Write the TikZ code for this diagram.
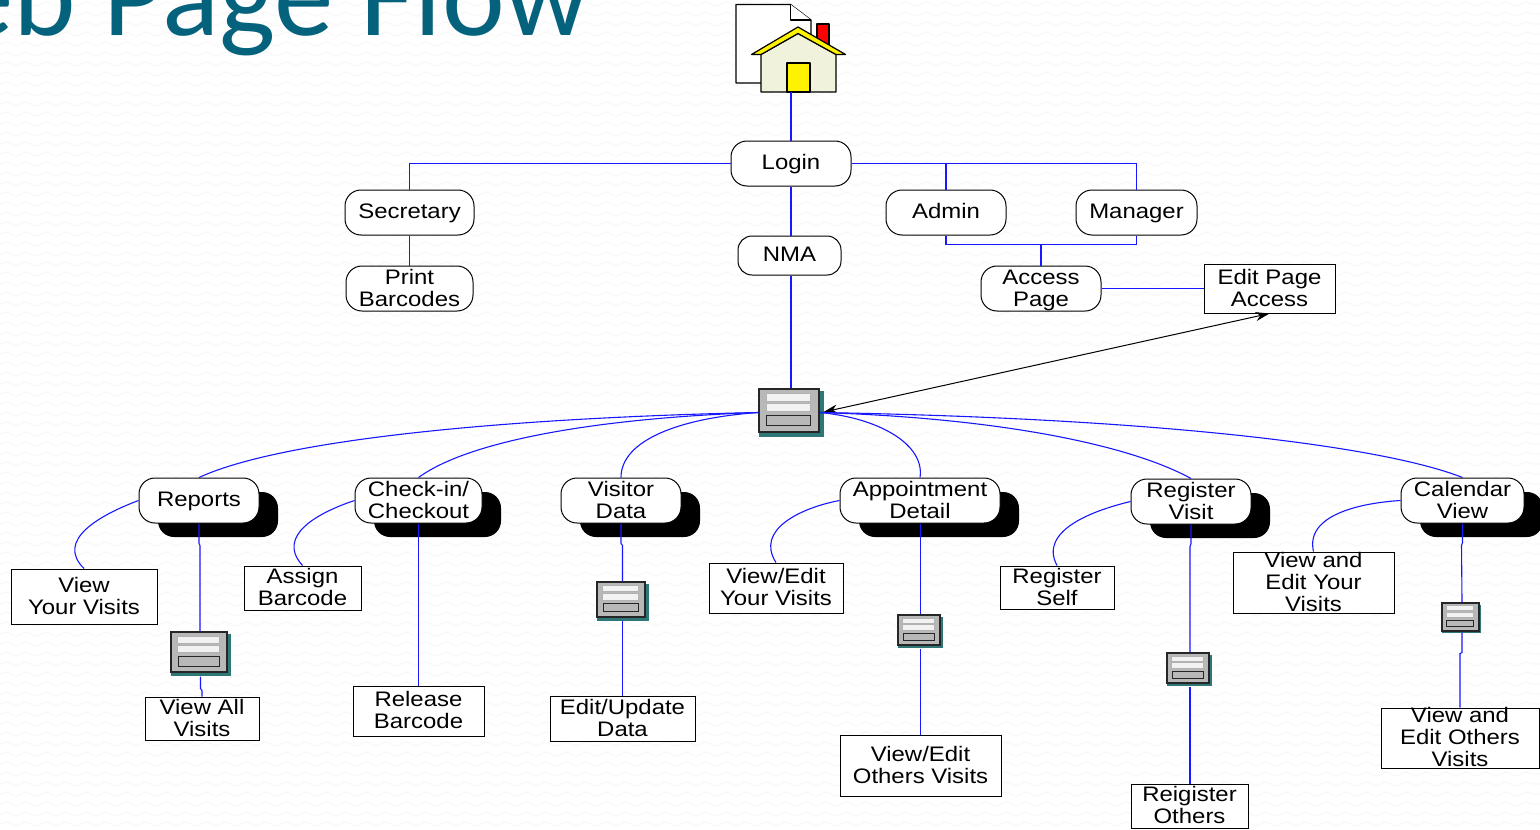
\documentclass[tikz,border=0pt]{standalone}
\usepackage{fontspec}
\setmainfont[FakeStretch=1.14]{Liberation Sans}
\newfontfamily\titlefont{Carlito}
\usetikzlibrary{arrows.meta,calc,shadows,decorations.pathmorphing}
\definecolor{linkblue}{HTML}{1818FF}
\definecolor{titleteal}{HTML}{05627D}
\definecolor{formteal}{HTML}{2F7676}
\definecolor{formgray}{HTML}{B8B8B8}
\definecolor{fieldwhite}{HTML}{F2F2F2}
\definecolor{wallwave}{HTML}{F8F8F8}
\definecolor{housecream}{HTML}{F0F2DC}
\newcommand{\fs}{\rule{0pt}{9.6pt}}
\tikzset{
  sz/.style 2 args={minimum width=#1*0.5pt,minimum height=#2*0.5pt},
  label text/.style={font=\fontsize{10.5}{11}\selectfont,align=center,inner xsep=0pt,inner ysep=-5pt,text=black,
    execute at end node={\rule[-2.75pt]{0pt}{2.75pt}}},
  one/.style={execute at begin node={\rule[-2.35pt]{0pt}{11pt}},execute at end node={}},
  roundbox/.style={label text,draw=black,fill=white,line width=0.5pt,rounded corners=8pt},
  deepbox/.style={roundbox,drop shadow={shadow xshift=9.5pt,shadow yshift=-7pt,opacity=1,fill=black}},
  pagebox/.style={label text,draw=black,fill=white,line width=0.5pt},
  formbox/.style={draw=black!85,fill=formgray,line width=0.55pt,inner sep=0pt},
  link/.style={draw=linkblue,line width=0.55pt},
  icon line/.style={draw=black,line width=0.6pt,line join=round}
}
\newcommand{\formicon}[6]{%name cx cy w h; shadow size
  \fill[formteal] (#2-#4/2,#3-#5/2+2) rectangle (#2+#4/2+#6,#3+#5/2+#6);
  \node[formbox,sz={#4}{#5}] (#1) at (#2,#3) {};
  \begin{scope}[shift={(#1.north west)},xscale=#4,yscale=#5]
    \draw[fill=fieldwhite,draw=gray!60,line width=0.5pt] (0.13,0.12) rectangle (0.87,0.30);
    \draw[fill=fieldwhite,draw=gray!60,line width=0.5pt] (0.13,0.35) rectangle (0.87,0.53);
    \draw[fill=formgray,draw=black!85,line width=0.5pt] (0.14,0.63) rectangle (0.87,0.87);
  \end{scope}
}
\begin{document}
\begin{tikzpicture}[x=0.5pt,y=-0.5pt]
\useasboundingbox (0,0) rectangle (1540,829);
\clip (0,0) rectangle (1540,829);
\fill[white] (0,0) rectangle (1540,829);
\foreach \wy in {4,14,...,824}
  \draw[wallwave,line width=0.6pt,decorate,decoration={snake,segment length=10pt,amplitude=1pt}] (0,\wy) -- (1540,\wy);

% title
\node[anchor=base east,inner sep=0pt,text=titleteal,font=\titlefont\fontsize{59.5}{60}\selectfont] (title) at (590,36) {Web Page Flow};

% home icon
\draw[icon line,fill=white] (736,4.5) -- (790.5,4.5) -- (811,20) -- (811,83) -- (736,83) -- cycle;
\draw[icon line,fill=white] (790.5,4.5) -- (790.5,20) -- (811,20);
\draw[icon line,fill=red] (817,24) rectangle (829,46);
\draw[icon line,fill=housecream] (761,54.5) -- (798,33.5) -- (836,54.5) -- (836,92) -- (761,92) -- cycle;
\draw[icon line,fill=yellow] (751.5,54.5) -- (798,27) -- (845.5,54.5) -- (836,54.5) -- (798,33.5) -- (761,54.5) -- cycle;
\draw[icon line,fill=yellow] (787,63) rectangle (810,92);
\node[inner sep=0pt,sz={2}{2}] (home) at (791,91) {};

% upper nodes
\node[roundbox,one,sz={120}{45}] (login) at (791,163.5) {Login};
\node[roundbox,one,sz={129}{45}] (sec) at (409.5,212.5) {Secretary};
\node[roundbox,sz={127}{45}] (print) at (409.5,288.5) {\fs Print\\Barcodes};
\node[roundbox,one,sz={103}{39},rounded corners=7pt] (nma) at (789.5,255.5) {NMA};
\node[roundbox,one,sz={120}{45}] (admin) at (946,212.5) {Admin};
\node[roundbox,one,sz={121}{45}] (manager) at (1136.5,212.5) {Manager};
\node[roundbox,sz={120}{45}] (access) at (1041,288.5) {\fs Access\\Page};
\node[pagebox,sz={131}{49}] (editpage) at (1269.5,288.5) {\fs Edit Page\\Access};
\formicon{hub}{789}{410.5}{60}{43}{4.5}

% section nodes
\node[deepbox,one,sz={120}{45}] (reports) at (199,500.5) {Reports};
\node[deepbox,sz={127}{45}] (check) at (418.5,500.5) {\fs Check-in/\\Checkout};
\node[deepbox,sz={120}{45}] (visitor) at (621,500.5) {\fs Visitor\\Data};
\node[deepbox,sz={160}{45}] (appoint) at (920,500.5) {\fs Appointment\\Detail};
\node[deepbox,sz={120}{45}] (regvisit) at (1191,501.5) {\fs Register\\Visit};
\node[deepbox,sz={123}{45}] (calendar) at (1462.5,500.5) {\fs Calendar\\View};

% page nodes
\node[pagebox,sz={146}{55}] (yourvisits) at (84,596.5) {\fs View\\Your Visits};
\node[pagebox,sz={114}{43}] (allvisits) at (202,718.5) {\fs View All\\Visits};
\node[pagebox,sz={117}{44}] (assign) at (302.5,588) {\fs Assign\\Barcode};
\node[pagebox,sz={131}{50}] (release) at (418.5,711) {\fs Release\\Barcode};
\node[pagebox,sz={145}{45}] (editdata) at (622.5,718.5) {\fs Edit/Update\\Data};
\node[pagebox,sz={134}{50}] (viewedityour) at (776,588) {\fs View/Edit\\Your Visits};
\node[pagebox,sz={161}{61}] (viewothers) at (920.5,765.5) {\fs View/Edit\\Others Visits};
\node[pagebox,sz={114}{43}] (regself) at (1057,587.5) {\fs Register\\Self};
\node[pagebox,sz={117}{44}] (regothers) at (1189.5,806) {\fs Reigister\\Others};
\node[pagebox,sz={161}{61}] (editYour) at (1313.5,582.5) {\fs View and\\Edit Your\\Visits};
\node[pagebox,sz={158}{60}] (editOthers) at (1460,738) {\fs View and\\Edit Others\\Visits};

% small forms
\formicon{frep}{199}{652}{56}{40}{3.5}
\formicon{fvis}{621}{599.5}{48}{35}{3.5}
\formicon{fapp}{919}{630}{42}{30}{3}
\formicon{freg}{1188}{668}{42}{30}{3}
\formicon{fcal}{1460.5}{617}{37}{28}{2}

% connectors, upper part
\draw[link] (home.south) -- (login.north);
\draw[link] (login.west) -| (sec.north);
\draw[link] (login.east) -| (admin.north);
\draw[link] (login.east) -| (manager.north);
\draw[link] (login.south) -- ($(nma.north)+(1.5,0)$);
\draw[link] ($(nma.south)+(1.5,0)$) -- ($(hub.north)+(2,0)$);
\draw[link] (sec.south) -- (print.north);
\draw[link] (admin.south) |- ($(access.north)+(0,-21)$) -- (access.north);
\draw[link] (manager.south) |- ($(access.north)+(0,-21)$);
\draw[link] (access.east) -- (editpage.west);
\draw[{Stealth[length=7pt,width=4.5pt]}-{Stealth[length=7pt,width=4.5pt]},black,line width=0.5pt] ($(hub.east)+(4,1.5)$) -- (editpage.south);

% hub to sections
\draw[link] ($(hub.west)+(0,2)$) .. controls (500,418) and (280,440) .. (reports.north);
\draw[link] ($(hub.west)+(0,2)$) .. controls (600,418) and (470,440) .. (check.north);
\draw[link] ($(hub.west)+(0,2)$) .. controls (680,418) and (621,440) .. (visitor.north);
\draw[link] ($(hub.east)+(0,2)$) .. controls (880,418) and (925,445) .. (appoint.north);
\draw[link] ($(hub.east)+(0,2)$) .. controls (1000,418) and (1130,445) .. (regvisit.north);
\draw[link] ($(hub.east)+(0,2)$) .. controls (1150,418) and (1380,445) .. (calendar.north);

% side curves
\draw[link] (reports.west) .. controls (100,515) and (55,540) .. (yourvisits.north);
\draw[link] (check.west) .. controls (320,512) and (275,535) .. (assign.north);
\draw[link] (appoint.west) .. controls (800,508) and (755,530) .. (viewedityour.north);
\draw[link] (regvisit.west) .. controls (1095,510) and (1038,530) .. (regself.north);
\draw[link] (calendar.west) .. controls (1360,503) and (1305,515) .. (editYour.north);

% vertical chains
\draw[link] (reports.south) -- ++(0,20) -- ++(1,2) -- ($(frep.north)+(1,0)$);
\draw[link] ($(frep.south)+(1.5,4)$) -- ++(0,12) -- ++(1.5,2) -- (allvisits.north);
\draw[link] (check.south) -- (release.north);
\draw[link] (visitor.south) -- ++(0,20) -- ++(1.5,2) -- ($(fvis.north)+(1.5,0)$);
\draw[link] ($(fvis.south)+(1.5,3)$) -- (editdata.north);
\draw[link] ($(appoint.south)+(0.5,0)$) -- ($(fapp.north)+(1.5,0)$);
\draw[link] ($(fapp.south)+(1.5,3)$) -- (viewothers.north);
\draw[link] (regvisit.south) -- ++(0,19) -- ++(-1,3) -- ($(freg.north)+(2,0)$);
\draw[link] ($(freg.south)+(2,3)$) -- ($(regothers.north)+(0.5,0)$);
\draw[link] (calendar.south) -- ++(0,19) -- ++(-1,3) -- ($(fcal.north)+(1.5,0)$);
\draw[link] ($(fcal.south)+(1.5,1)$) -- ++(0,20) -- ++(-2,1) -- (editOthers.north);
\end{tikzpicture}
\end{document}
